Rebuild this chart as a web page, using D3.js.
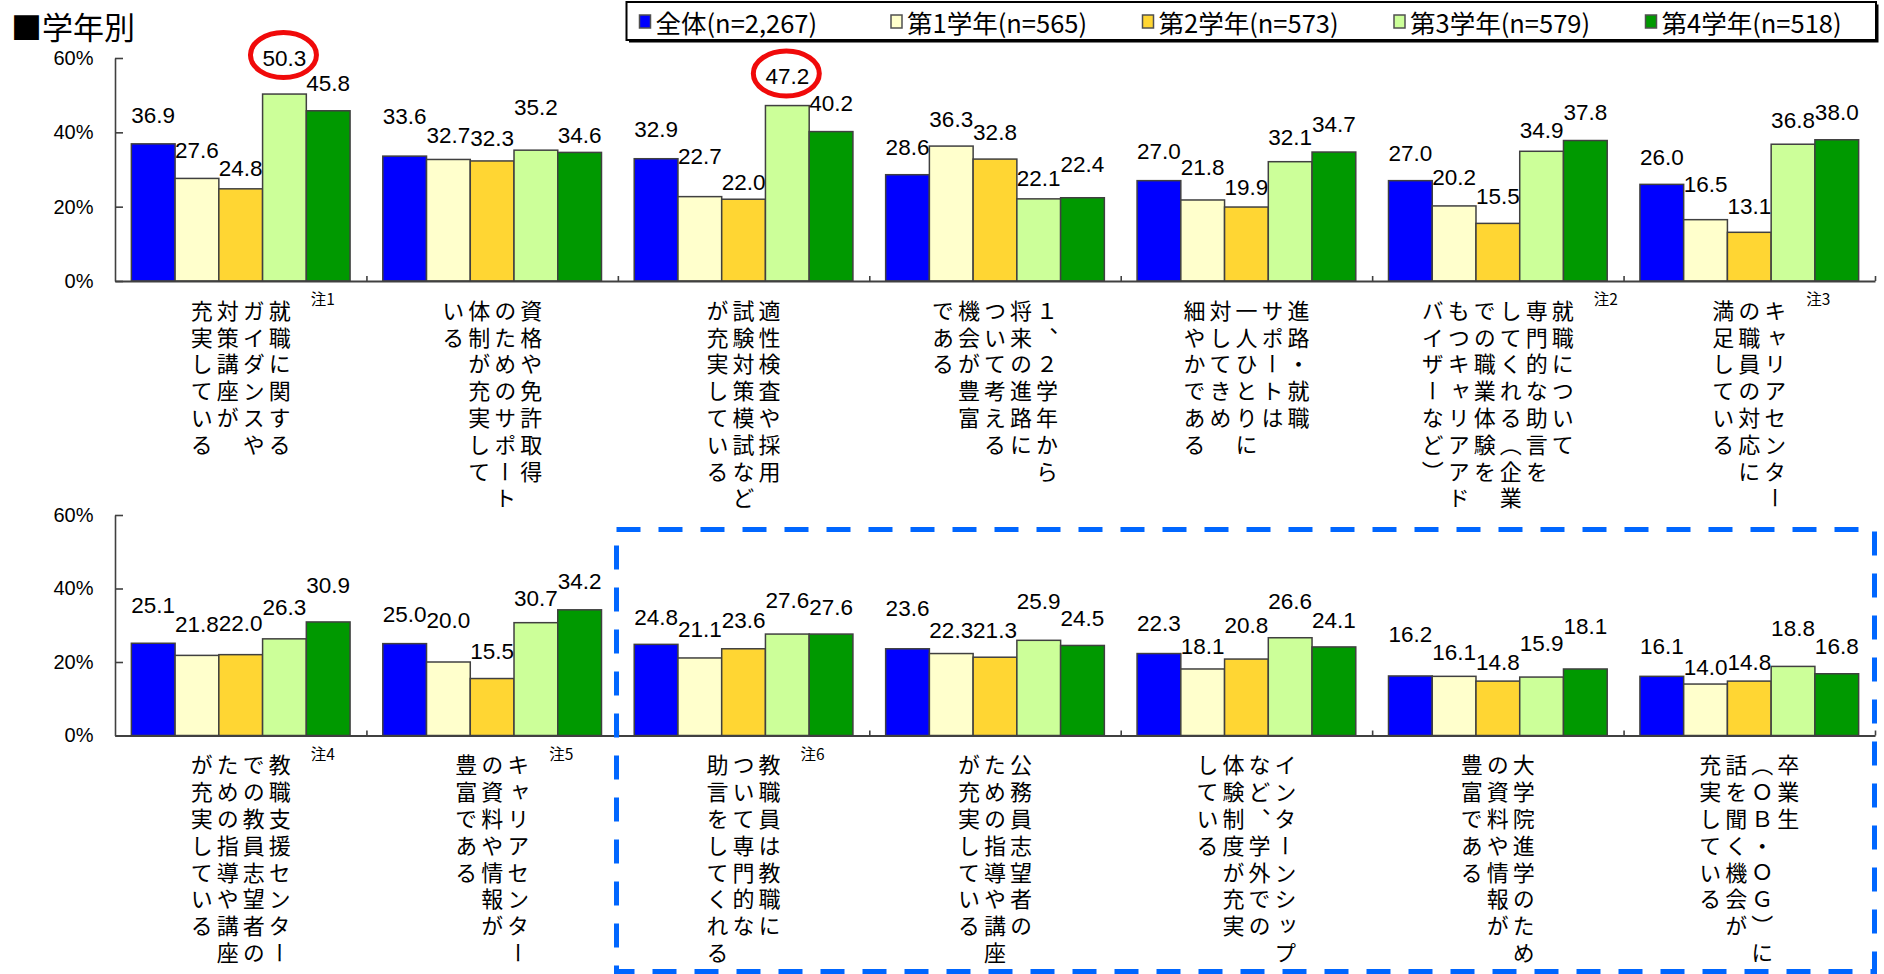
<!DOCTYPE html>
<html>
<head>
<meta charset="utf-8">
<script src="https://cdn.jsdelivr.net/npm/d3@7"></script>
<style>
  html, body { margin: 0; padding: 0; background: #fff; }
  svg { display: block; }
</style>
</head>
<body>
<svg id="chart" width="1884" height="974"></svg>
<script>
// ---- series ----
const seriesNames  = ["全体(n=2,267)", "第1学年(n=565)", "第2学年(n=573)", "第3学年(n=579)", "第4学年(n=518)"];
const seriesColors = ["#0000ff", "#ffffcc", "#ffd633", "#ccff99", "#009900"];

// ---- upper row: category labels (one string per vertical column, right to left) ----
const topCategories = [
  ["就職に関する", "ガイダンスや", "対策講座が", "充実している"],
  ["資格や免許取得", "のためのサポート", "体制が充実して", "いる"],
  ["適性検査や採用", "試験対策模試など", "が充実している"],
  ["１、２学年から", "将来の進路に", "ついて考える", "機会が豊富", "である"],
  ["進路・就職", "サポートは", "一人ひとりに", "対してきめ", "細やかである"],
  ["就職について", "専門的な助言を", "してくれる（企業", "での職業体験を", "もつキャリアアド", "バイザーなど）"],
  ["キャリアセンター", "の職員の対応に", "満足している"]
];
const topNotes = ["注1", "", "", "", "", "注2", "注3"];
// values per category, in series order
const topValues = [
  [36.9, 27.6, 24.8, 50.3, 45.8],
  [33.6, 32.7, 32.3, 35.2, 34.6],
  [32.9, 22.7, 22.0, 47.2, 40.2],
  [28.6, 36.3, 32.8, 22.1, 22.4],
  [27.0, 21.8, 19.9, 32.1, 34.7],
  [27.0, 20.2, 15.5, 34.9, 37.8],
  [26.0, 16.5, 13.1, 36.8, 38.0]
];

// ---- lower row ----
const bottomCategories = [
  ["教職支援センター", "での教員志望者の", "ための指導や講座", "が充実している"],
  ["キャリアセンター", "の資料や情報が", "豊富である"],
  ["教職員は教職に", "ついて専門的な", "助言をしてくれる"],
  ["公務員志望者の", "ための指導や講座", "が充実している"],
  ["インターンシップ", "など、学外での", "体験制度が充実", "している"],
  ["大学院進学のため", "の資料や情報が", "豊富である"],
  ["卒業生", "（ＯＢ・ＯＧ）に", "話を聞く機会が", "充実している"]
];
const bottomNotes = ["注4", "注5", "注6", "", "", "", ""];
const bottomValues = [
  [25.1, 21.8, 22.0, 26.3, 30.9],
  [25.0, 20.0, 15.5, 30.7, 34.2],
  [24.8, 21.1, 23.6, 27.6, 27.6],
  [23.6, 22.3, 21.3, 25.9, 24.5],
  [22.3, 18.1, 20.8, 26.6, 24.1],
  [16.2, 16.1, 14.8, 15.9, 18.1],
  [16.1, 14.0, 14.8, 18.8, 16.8]
];

const yTicks = [0, 20, 40, 60];
const yMax = 60;

// circled values: [row, category, series]
const highlights = [[0, 0, 3], [0, 2, 3]];

// ---- layout: how far each value label floats above its bar (px, label centre) ----
const topLift = [
  [28, 28, 20, 36, 27],
  [40, 24, 22, 43, 17],
  [29, 40, 17, 29, 28],
  [27, 27, 27, 20, 33],
  [29, 32, 20, 24, 28],
  [27, 28, 27, 21, 28],
  [27, 35, 26, 24, 27]
];
const bottomLift = [
  [38, 31, 31, 31, 36],
  [29, 42, 27, 24, 28],
  [27, 28, 28, 34, 27],
  [40, 23, 27, 39, 27],
  [30, 22, 34, 36, 26],
  [41, 24, 19, 34, 42],
  [30, 17, 19, 38, 27]
];

const svg = d3.select("#chart");
const NUM_FONT = "'Liberation Sans', Arial, sans-serif";
const JP_FONT = "'Noto Sans CJK JP', 'Noto Sans CJK SC', sans-serif";
const AXIS_COLOR = "#404040";

const plotLeft = 115, plotRight = 1875;
const rows = [
  { cats: topCategories, notes: topNotes, values: topValues, lift: topLift, y0: 281, y1: 58 },
  { cats: bottomCategories, notes: bottomNotes, values: bottomValues, lift: bottomLift, y0: 735.5, y1: 515 }
];

const xCat = d3.scaleBand().domain(d3.range(7)).range([plotLeft, plotRight]).paddingInner(0).paddingOuter(0);
const xSer = d3.scaleBand().domain(d3.range(seriesNames.length)).range([0, xCat.bandwidth()]).paddingInner(0).paddingOuter(0.374);
const xEdge = d3.scaleLinear().domain([0, 7]).range([plotLeft, plotRight]);

// ---- title ----
svg.append("text")
  .attr("x", 11).attr("y", 39)
  .attr("font-family", JP_FONT).attr("font-size", 31)
  .attr("fill", "#000")
  .text("■学年別");

// ---- legend: five equal slots inside a framed box ----
const legendBox = { x: 626.5, y: 2, w: 1249.5, h: 38 };
svg.append("rect")
  .attr("x", legendBox.x + 2.5).attr("y", legendBox.y + 2.5)
  .attr("width", legendBox.w).attr("height", legendBox.h)
  .attr("fill", "#000");
svg.append("rect")
  .attr("x", legendBox.x).attr("y", legendBox.y)
  .attr("width", legendBox.w).attr("height", legendBox.h)
  .attr("fill", "#fff").attr("stroke", "#000").attr("stroke-width", 2);

const slot = d3.scaleBand().domain(d3.range(seriesNames.length))
  .range([legendBox.x + 13, legendBox.x + 13 + 5 * 251.5]);
const legend = svg.append("g")
  .attr("transform", `translate(0,${legendBox.y + legendBox.h / 2 + 0.5})`);
const items = legend.selectAll("g.item")
  .data(seriesNames)
  .join("g")
  .attr("class", "item")
  .attr("transform", (d, i) => `translate(${slot(i)},0)`);
items.append("rect")
  .attr("x", 0).attr("y", -6.5).attr("width", 11).attr("height", 13)
  .attr("fill", (d, i) => seriesColors[i])
  .attr("stroke", "#505050").attr("stroke-width", 1.5);
items.append("text")
  .attr("x", 16).attr("y", 0)
  .attr("dominant-baseline", "central")
  .attr("font-family", JP_FONT).attr("font-size", 25.5)
  .attr("fill", "#000")
  .text(d => d);

// ---- panels ----
rows.forEach((row, r) => {
  const y = d3.scaleLinear().domain([0, yMax]).range([row.y0, row.y1]);
  const g = svg.append("g");

  // bars
  row.values.forEach((vals, c) => {
    const grp = g.append("g").attr("transform", `translate(${xCat(c)},0)`);
    grp.selectAll("rect")
      .data(vals)
      .join("rect")
      .attr("x", (d, s) => xSer(s))
      .attr("y", d => y(d))
      .attr("width", xSer.bandwidth())
      .attr("height", d => y(0) - y(d))
      .attr("fill", (d, s) => seriesColors[s])
      .attr("stroke", AXIS_COLOR)
      .attr("stroke-width", 1.5);

    grp.selectAll("text.val")
      .data(vals)
      .join("text")
      .attr("class", "val")
      .attr("x", (d, s) => xSer(s) + xSer.bandwidth() / 2)
      .attr("y", (d, s) => y(d) - row.lift[c][s])
      .attr("text-anchor", "middle")
      .attr("dominant-baseline", "central")
      .attr("font-family", NUM_FONT).attr("font-size", 22.5)
      .attr("fill", "#000")
      .text(d => d.toFixed(1));
  });

  // y axis, ticks pointing inward
  const yAxis = d3.axisLeft(y).tickValues(yTicks).tickSize(-8).tickSizeOuter(0).tickPadding(21.5)
    .tickFormat(d => d + "%");
  const ya = g.append("g").attr("transform", `translate(${plotLeft},0)`).call(yAxis);
  ya.select(".domain").attr("stroke", AXIS_COLOR).attr("stroke-width", 1.6);
  ya.selectAll(".tick line").attr("stroke", AXIS_COLOR).attr("stroke-width", 1.6);
  ya.selectAll(".tick text").attr("font-family", NUM_FONT).attr("font-size", 20).attr("fill", "#000");

  // x axis with small separators between categories
  const xAxis = d3.axisBottom(xEdge).tickValues(d3.range(1, 8)).tickSize(-5).tickSizeOuter(0).tickFormat("");
  const xa = g.append("g").attr("transform", `translate(0,${row.y0})`).call(xAxis);
  xa.select(".domain").attr("stroke", AXIS_COLOR).attr("stroke-width", 1.8);
  xa.selectAll(".tick line").attr("stroke", AXIS_COLOR).attr("stroke-width", 1.6);

  // vertical category labels
  const colGap = 26;
  row.cats.forEach((cols, c) => {
    const cx = xCat(c) + xCat.bandwidth() / 2;
    const n = cols.length;
    const rightmost = cx + (n - 1) / 2 * colGap;
    cols.forEach((txt, k) => {
      g.append("text")
        .attr("x", rightmost - k * colGap)
        .attr("y", row.y0 + 18.5)
        .style("writing-mode", "vertical-rl")
        .style("letter-spacing", "4.8px")
        .attr("font-family", JP_FONT).attr("font-size", 22)
        .attr("fill", "#000")
        .text(txt);
    });
    if (row.notes[c]) {
      g.append("text")
        .attr("x", rightmost + 31)
        .attr("y", row.y0 + 24)
        .attr("font-family", JP_FONT).attr("font-size", 15.5)
        .attr("fill", "#000")
        .text(row.notes[c]);
    }
  });

  // circled values
  highlights.filter(h => h[0] === r).forEach(([, c, s]) => {
    const v = row.values[c][s];
    g.append("ellipse")
      .attr("cx", xCat(c) + xSer(s) + xSer.bandwidth() / 2 - 1)
      .attr("cy", y(v) - row.lift[c][s] - 3)
      .attr("rx", 33).attr("ry", 22.5)
      .attr("fill", "none").attr("stroke", "#f00a0a").attr("stroke-width", 5);
  });
});

// dashed frame around the last five groups of the lower row
svg.append("rect")
  .attr("x", 616.5).attr("y", 529.5)
  .attr("width", 1874.5 - 616.5).attr("height", 971.5 - 529.5)
  .attr("fill", "none")
  .attr("stroke", "#0066ff").attr("stroke-width", 5)
  .attr("stroke-dasharray", "24,18");
</script>
</body>
</html>
